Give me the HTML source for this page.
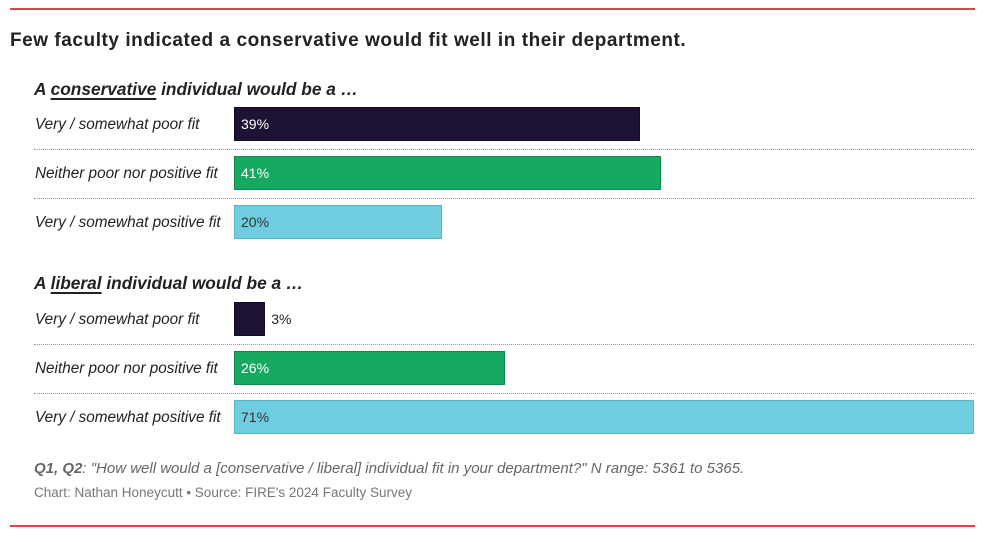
<!DOCTYPE html>
<html><head><meta charset="utf-8">
<style>
body{margin:0;width:988px;height:542px;background:#fff;position:relative;overflow:hidden;font-family:"Liberation Sans",sans-serif;color:#222}
.abs{position:absolute}
.rule{position:absolute;left:10px;width:965px;height:2px;background:#e0434b}
.title{left:10px;top:30px;font-size:19px;font-weight:bold;color:#222;letter-spacing:0.55px}
.hdr{left:34px;font-size:17.3px;font-weight:bold;font-style:italic;color:#222}
.hdr u{text-decoration-thickness:1.5px;text-underline-offset:3px}
.lbl{left:35px;font-size:15.3px;font-style:italic;color:#222;white-space:nowrap}
.bar{position:absolute;left:234px;height:34px;box-sizing:border-box}
.val{position:absolute;font-size:14px;white-space:nowrap}
.sep{position:absolute;left:34px;width:940px;border-top:1px dotted #999}
.note{left:34px;top:460px;font-size:15px;font-style:italic;color:#666;font-family:"Liberation Sans Narrow","Liberation Sans",sans-serif;white-space:nowrap}
.src{left:34px;top:485px;font-size:13.5px;color:#777;font-family:"Liberation Sans Narrow","Liberation Sans",sans-serif;white-space:nowrap}
</style></head><body>
<div class="rule" style="top:8px"></div>
<div class="abs title">Few faculty indicated a conservative would fit well in their department.</div>
<div class="abs hdr" style="top:79px">A <u>conservative</u> individual would be a …</div>
<div class="abs hdr" style="top:273px">A <u>liberal</u> individual would be a …</div>
<div id="chart"></div>
<div class="abs note"><b>Q1, Q2</b>: "How well would a [conservative / liberal] individual fit in your department?" N range: 5361 to 5365.</div>
<div class="abs src">Chart: Nathan Honeycutt • Source: FIRE's 2024 Faculty Survey</div>
<div class="rule" style="top:525px"></div>
<script>
const categories = ["Very / somewhat poor fit","Neither poor nor positive fit","Very / somewhat positive fit"];
const conservativeValues = [39, 41, 20];
const liberalValues = [3, 26, 71];
const colors = ["#1e1335","#17a862","#6fcde0"];
const borders = ["#140c26","#118a50","#55b6ca"];
const textColors = ["#fff","#fff","#333"];
const x0 = 234, pxPer = 740/71;
const xScale = v => v * pxPer;
const chart = document.getElementById('chart');
function group(values, top){
  values.forEach((v,i)=>{
    const y = top + i*49;
    const lbl = document.createElement('div');
    lbl.className='abs lbl';
    lbl.style.top=(y+9)+'px';
    lbl.textContent=categories[i];
    
    
    chart.appendChild(lbl);
    const b=document.createElement('div');
    b.className='bar';
    b.style.top=y+'px';
    b.style.width=xScale(v)+'px';
    b.style.background=colors[i];
    b.style.border='1px solid '+borders[i];
    
    
    chart.appendChild(b);
    const t=document.createElement('div');
    t.className='val';
    t.style.top=(y+9)+'px';
    t.textContent=v+'%';
    if(xScale(v)<40){t.style.left=(x0+xScale(v)+6)+'px';t.style.color='#222';}
    else{t.style.left=(x0+7)+'px';t.style.color=textColors[i];}
    
    
    chart.appendChild(t);
    if(i<2){
      const s=document.createElement('div');
      s.className='sep';
      s.style.top=(y+42)+'px';
      
      
      chart.appendChild(s);
    }
  });
}
group(conservativeValues,107);
group(liberalValues,302);
</script>
</body></html>
